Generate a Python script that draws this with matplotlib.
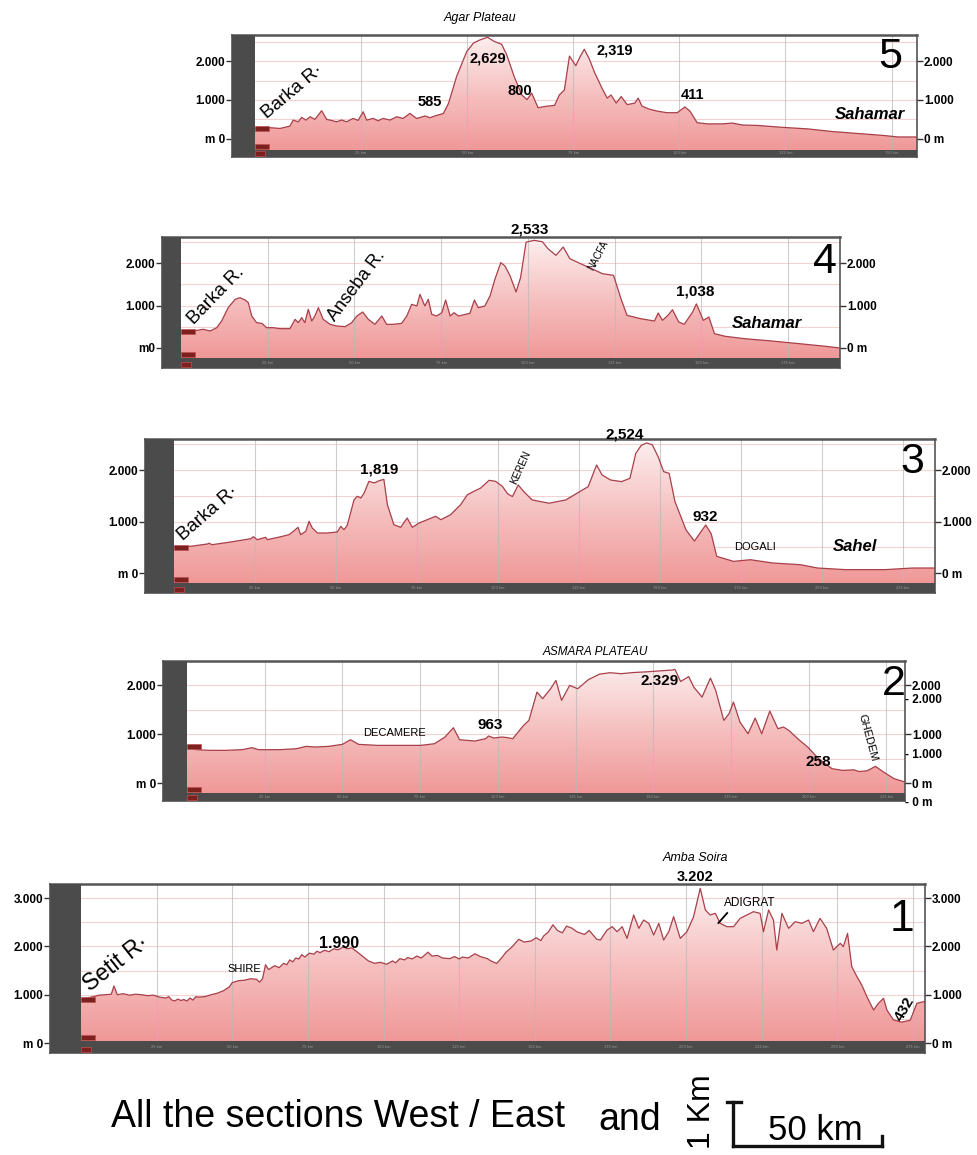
import numpy as np
import matplotlib.pyplot as plt
from matplotlib.colors import LinearSegmentedColormap
from matplotlib.lines import Line2D
from matplotlib.patches import Rectangle

# Section 5: Barka R. -> Agar Plateau -> Sahamar
km5 = [0, 2.8, 5.9, 8.2, 9.0, 10.2, 11.0, 12.0, 13.0, 14.1, 15.7, 16.9, 18.0, 19.2, 20.4, 21.6,
       23.1, 24.3, 25.5, 26.3, 27.9, 29.0, 30.2, 31.8, 33.4, 34.9, 36.5, 38.1, 40.1, 41.2, 42.8,
       44.4, 45.6, 47.5, 49.9, 51.5, 53.0, 54.8, 56.4, 58.1, 59.3, 61.1, 62.9, 64.1, 65.2, 66.7,
       68.8, 70.6, 71.7, 72.9, 74.1, 75.6, 76.5, 77.6, 78.8, 80.0, 81.8, 83.0, 83.9, 85.1, 86.3,
       87.7, 89.5, 90.3, 91.2, 93.0, 94.8, 97.1, 99.5, 101.3, 102.5, 104.2, 106.6, 110.1, 112.5,
       114.9, 118.4, 124.3, 130.2, 136.1, 142.1, 148.0, 151.5, 156]
elev5 = [261, 287, 261, 321, 478, 434, 548, 478, 565, 496, 722, 496, 470, 434, 480, 434,
         522, 470, 695, 478, 522, 460, 522, 478, 565, 522, 652, 520, 585, 540, 600,
         650, 913, 1608, 2260, 2480, 2560, 2629, 2520, 2450, 2180, 1600, 1130, 1010, 1180, 800,
         840, 860, 1130, 1260, 2140, 1890, 2100, 2319, 2060, 1720, 1300, 1050, 1130, 920, 1090,
         880, 920, 1050, 840, 760, 710, 670, 670, 820, 710, 411, 380, 380, 400,
         350, 340, 290, 250, 180, 130, 80, 40, 40]

# Section 4: Barka R. -> Anseba R. -> Nacfa -> Sahamar
km4 = [0, 0.7, 3.5, 6.4, 8.4, 10.3, 11.7, 13.6, 15.6, 17.0, 18.5, 19.4, 20.4, 21.8, 23.3, 24.7,
       26.6, 28.5, 31.4, 32.9, 33.8, 34.8, 35.7, 36.7, 37.7, 38.6, 39.6, 41.0, 43.0, 44.9, 47.3,
       49.2, 50.7, 52.4, 54.0, 55.9, 57.9, 59.3, 61.2, 63.6, 65.1, 66.5, 68.0, 68.9, 70.3, 71.3,
       72.3, 73.7, 75.2, 76.3, 77.6, 78.7, 80.0, 83.3, 84.6, 85.7, 87.6, 89.1, 90.5, 92.2, 93.4,
       94.9, 96.6, 97.9, 99.5, 101.8, 104.2, 105.8, 108.1, 110.2, 112.1, 115.2, 118.4, 121.5,
       124.7, 127.0, 128.6, 132.5, 136.5, 137.6, 138.8, 140.4, 141.7, 143.5, 145.1, 147.5, 148.6,
       150.6, 152.2, 153.8, 156.9, 162.4, 170.3, 178.2, 186.0, 190]
elev4 = [390, 400, 400, 440, 400, 478, 635, 949, 1145, 1184, 1129, 1067, 753, 596, 580, 478,
         478, 455, 455, 675, 596, 714, 596, 910, 635, 753, 949, 675, 557, 518, 502,
         596, 753, 847, 675, 557, 753, 557, 557, 580, 753, 1027, 988, 1263, 988, 1145,
         792, 753, 831, 1129, 753, 831, 753, 816, 1129, 949, 988, 1224, 1616, 2008, 1929,
         1694, 1318, 1655, 2490, 2533, 2500, 2337, 2180, 2376, 2102, 1984, 1867, 1749,
         1710, 1122, 769, 690, 635, 824, 651, 769, 900, 612, 557, 847, 1038,
         651, 729, 337, 275, 220, 165, 102, 39, 0]

# Section 3: Barka R. -> Keren -> Dogali -> Sahel
km3 = [0, 5.1, 10.3, 10.8, 11.8, 17.5, 23.7, 24.5, 25.7, 28.3, 28.8, 33.0, 35.5, 37.1, 38.3,
       39.1, 40.7, 41.7, 42.7, 44.3, 47.3, 50.4, 51.5, 52.5, 53.5, 55.6, 56.6, 57.7, 58.7, 60.2,
       61.8, 63.3, 64.8, 65.9, 67.9, 70.0, 72.0, 73.6, 75.7, 78.2, 80.8, 82.4, 85.4, 88.5, 90.6,
       92.6, 94.7, 97.3, 99.3, 101.4, 103.0, 104.5, 106.3, 108.0, 110.6, 113.2, 115.8, 121.0,
       124.4, 127.9, 130.5, 132.2, 134.8, 138.2, 140.8, 142.6, 144.3, 146.0, 147.7, 149.5, 151.2,
       152.9, 154.7, 158.1, 160.7, 164.2, 165.9, 167.6, 172.8, 178.0, 184.9, 193.5, 198.7, 207.4,
       219.5, 228.1, 235]
elev3 = [499, 518, 563, 577, 550, 602, 666, 705, 647, 693, 647, 705, 744, 822, 887,
         744, 810, 1004, 874, 777, 777, 796, 906, 841, 926, 1423, 1489, 1456, 1553, 1780,
         1748, 1790, 1819, 1326, 938, 887, 1068, 887, 971, 1035, 1101, 1035, 1132, 1326, 1520,
         1586, 1650, 1800, 1780, 1683, 1540, 1484, 1710, 1581, 1419, 1387, 1355, 1419,
         1548, 1677, 2097, 1903, 1806, 1774, 1839, 2323, 2480, 2524, 2490, 2258, 1968,
         1935, 1387, 839, 620, 932, 760, 323, 226, 258, 194, 161, 97, 65,
         65, 97, 97]

# Section 2: Decamere -> Asmara Plateau -> Ghedem
km2 = [0, 3.0, 7.3, 12.5, 17.8, 20.9, 23.0, 29.9, 35.2, 38.3, 41.3, 45.6, 50.0, 52.6, 55.2, 61.3,
       68.2, 75.2, 79.6, 83.0, 85.7, 87.7, 92.6, 96.1, 97.0, 98.7, 101.3, 103.1, 104.8, 108.3,
       110.0, 112.6, 114.4, 117.0, 118.7, 120.5, 123.1, 125.7, 129.2, 132.7, 136.1, 139.6, 144.0,
       148.3, 152.7, 156.2, 157.0, 158.8, 161.4, 163.1, 165.7, 168.4, 170.1, 172.7, 174.4, 175.8,
       177.9, 180.5, 182.8, 184.9, 187.5, 190.1, 191.9, 193.6, 197.1, 199.7, 203.2, 207.5, 211.0,
       214.5, 216.2, 218.8, 221.5, 224.1, 227.5, 231]
elev2 = [751, 683, 669, 669, 683, 724, 683, 683, 703, 751, 737, 751, 792, 887, 792, 771,
         771, 771, 805, 942, 1133, 887, 860, 908, 963, 922, 942, 930, 908, 1181,
         1283, 1863, 1727, 1932, 2102, 1693, 2000, 1932, 2120, 2230, 2260, 2240, 2265,
         2280, 2300, 2315, 2329, 2080, 2180, 1960, 1761, 2150, 1898, 1283, 1420, 1659,
         1249, 1010, 1331, 1010, 1474, 1113, 1147, 1079, 874, 737, 498, 294, 258,
         270, 235, 250, 341, 225, 89, 20]

# Section 1: Setit R. -> Shire -> Amba Soira / Adigrat
km1 = [0, 2, 4, 6, 8, 10, 10.9, 12, 14, 16, 18, 20, 22, 24, 26, 28, 29, 30, 31, 32,
       33, 34, 35, 36, 37, 38, 39, 41, 43, 45, 47, 49, 50, 52, 54, 56, 58, 59, 60, 61,
       62, 63, 64, 65.5, 67, 68, 69, 70, 71, 72, 73, 74, 75.5, 77, 78, 79, 80.5, 82, 83.5, 85,
       86.8, 88, 89.5, 91, 93, 95, 97, 99, 101, 103, 104, 105.4, 107, 108, 109.5, 111, 112.5,
       114.7, 116, 117.8, 119.5, 121.9, 123.5, 125, 126.1, 128, 130.2, 132, 134.3, 135.5,
       137.4, 139, 140.5, 142.5, 144.7, 146.5, 148.8, 150.5, 152, 152.9, 154.5, 156.0, 157.5,
       159.1, 160.5, 162.2, 164, 166.4, 168, 170.5, 171.7, 173.9, 175.6, 177.2, 178.9, 180.5,
       182.7, 184.4, 186.0, 187.7, 189.3, 191.0, 192.6, 194.3, 195.9, 198.1, 200.3, 202.5,
       204.7, 206.4, 208.0, 209.7, 211.3, 213.5, 215.7, 217.9, 220.1, 222.3, 224.5, 225.6,
       227.3, 228.9, 230.0, 231.7, 233.9, 236.1, 238.3, 240.5, 242.1, 244.3, 246.5, 248.7,
       251.0, 252.0, 253.4, 254.8, 256.5, 258.1, 259.8, 262.0, 263.6, 265.3, 266.4, 268.6,
       271.3, 274.1, 276.3, 278.5, 279]
elev1 = [900, 930, 960, 990, 1000, 1010, 1180, 1000, 1020, 990, 1010, 1000, 980, 990, 950, 930,
         960, 890, 870, 910, 880, 900, 870, 930, 890, 960, 950, 960, 1000, 1030, 1080, 1160,
         1250, 1290, 1300, 1330, 1320, 1260, 1330, 1620, 1520, 1560, 1600, 1560, 1650, 1620,
         1720, 1680, 1760, 1740, 1830, 1780, 1860, 1840, 1900, 1870, 1920, 1890, 1950, 1930,
         1990, 1950, 1970, 1900, 1800, 1700, 1650, 1670, 1630, 1700, 1660, 1747, 1720, 1770,
         1740, 1800, 1760, 1880, 1800, 1813, 1760, 1747, 1790, 1740, 1780, 1760, 1847, 1790,
         1747, 1700, 1647, 1760, 1880, 1990, 2147, 2090, 2113, 2180, 2120, 2213, 2300, 2447,
         2330, 2280, 2420, 2380, 2300, 2247, 2330, 2147, 2132, 2339, 2408, 2304, 2408, 2167,
         2650, 2374, 2546, 2477, 2236, 2477, 2132, 2304, 2615, 2167, 2304, 2615, 3202, 2753,
         2650, 2684, 2477, 2408, 2408, 2581, 2650, 2719, 2684, 2304, 2753, 2546, 1925, 2684,
         2374, 2512, 2477, 2546, 2304, 2581, 2374, 1925, 2064, 1994, 2270, 1580, 1373, 1201,
         958, 683, 822, 925, 683, 476, 432, 470, 822, 855, 860]

W, H = 978, 1155
fig = plt.figure(figsize=(W / 100, H / 100), dpi=100)

relief = LinearSegmentedColormap.from_list('relief', ['#f09898', '#f6c1c1', '#fdf0f0'])
LINE = '#a8404a'
DARK = '#4b4b4b'
BOX = '#7c2020'
SANS = ['Liberation Sans', 'DejaVu Sans']


def profile(frame, plot_left, plot_bottom, zero_y, px_per_km, km, elev, length,
            ticks, left_labels, right_labels):
    """Draw one elevation section; frame = outer box in pixels (left, top, right, bottom)."""
    left, top, right, bottom = frame
    ax = fig.add_axes([left / W, 1 - bottom / H, (right - left) / W, (bottom - top) / H])
    m_per_px = 1000 / px_per_km
    km_per_px = length / (right - plot_left)
    x_min = -(plot_left - left) * km_per_px
    y_top = (zero_y - top) * m_per_px
    y_min = -(bottom - zero_y) * m_per_px
    y_floor = -(plot_bottom - zero_y) * m_per_px

    for m in range(500, int(y_top), 500):
        ax.axhline(m, color='#f5d2d2', lw=0.8, zorder=0)
    poly = ax.fill_between(km, elev, y_floor, color='none', lw=0)
    grad = np.linspace(0, 1, 256).reshape(-1, 1)
    im = ax.imshow(grad, extent=[0, length, y_floor, y_top], origin='lower',
                   aspect='auto', cmap=relief, zorder=1)
    im.set_clip_path(poly.get_paths()[0], transform=ax.transData)
    for g in np.arange(25, length, 25):
        ax.axvline(g, color='#b9b9b9', lw=0.8, alpha=0.7, zorder=2)
        ax.text(g, (y_min + y_floor) / 2, f'{g:.0f} km', fontsize=2.5, color='#9c9c9c',
                ha='center', va='center', zorder=6)
    ax.plot(km, elev, color=LINE, lw=0.9, zorder=3)
    ax.axvspan(x_min, 0, color=DARK, lw=0, zorder=4)
    ax.axhspan(y_min, y_floor, color=DARK, lw=0, zorder=4)

    # small read-out boxes of the profile tool at the start of the section
    bw, bh = 14 * km_per_px, 5 * m_per_px
    for yb in (elev[0] - bh / 2, y_floor + 1.5 * m_per_px):
        ax.add_patch(Rectangle((0, yb), bw, bh, fc=BOX, ec='#c05050', lw=0.5, zorder=5))
    ax.add_patch(Rectangle((0, y_min + 1.5 * m_per_px), bw * 0.7, bh, fc=BOX, ec='#c05050',
                           lw=0.5, zorder=5))

    ax.set_xlim(x_min, length)
    ax.set_ylim(y_min, y_top)
    ax.set_xticks([])
    for s in ax.spines.values():
        s.set_color('#555555')
        s.set_linewidth(1.2)
    ax.spines['top'].set_linewidth(1.8)

    ax.set_yticks(ticks)
    ax.set_yticklabels(left_labels, fontweight='bold', fontsize=8.5, family=SANS)
    ax.tick_params(axis='y', direction='out', length=4, width=1, color='#333333', pad=1)
    ax2 = ax.twinx()
    ax2.set_ylim(y_min, y_top)
    ax2.set_yticks(ticks)
    ax2.set_yticklabels(right_labels, fontweight='bold', fontsize=8.5, family=SANS)
    ax2.tick_params(axis='y', direction='out', length=4, width=1, color='#333333', pad=1)
    for s in ax2.spines.values():
        s.set_visible(False)
    return ax


def peak(ax, x, y, s, size=10.5, **kw):
    ax.text(x, y, s, ha='center', va='center', fontsize=size, fontweight='bold',
            family=SANS, zorder=7, clip_on=False, **kw)


def name(ax, x, y, s, size=8, **kw):
    ax.text(x, y, s, ha='center', va='center', fontsize=size, family=SANS,
            zorder=7, clip_on=False, **kw)


# ---- section 5
ax = profile((232, 35, 917, 157), 255, 150, 138.5, 38.5, km5, elev5, 156,
             [0, 1000, 2000], ['m 0', '1.000', '2.000'], ['0 m', '1.000', '2.000'])
name(ax, 53, 3120, 'Agar Plateau', 9, style='italic')
peak(ax, 54.9, 2088, '2,629')
peak(ax, 62.4, 1240, '800')
peak(ax, 84.8, 2280, '2,319')
peak(ax, 41.2, 955, '585')
peak(ax, 103, 1120, '411')
name(ax, 149.6, 2110, '5', 31)
name(ax, 145, 620, 'Sahamar', 12, style='italic', fontweight='bold')
name(ax, 8.9, 1208, 'Barka R·', 13.5, rotation=40)

# ---- section 4
ax = profile((162, 237, 840, 368), 181, 358, 348, 42.5, km4, elev4, 190,
             [0, 1000, 2000], ['m0', '1.000', '2.000'], ['0 m', '1.000', '2.000'])
peak(ax, 100.6, 2800, '2,533', 11)
name(ax, 120.2, 2188, 'NACFA', 7, rotation=62)
peak(ax, 148.2, 1318, '1,038', 11)
name(ax, 185.7, 2024, '4', 31)
name(ax, 169, 588, 'Sahamar', 12, style='italic', fontweight='bold')
name(ax, 10.1, 1224, 'Barka R.', 13.5, rotation=46)
name(ax, 50.7, 1459, 'Anseba R.', 13, rotation=53)

# ---- section 3
ax = profile((145, 439, 935, 593), 174, 583, 573, 51.5, km3, elev3, 235,
             [0, 1000, 2000], ['m 0', '1.000', '2.000'], ['0 m', '1.000', '2.000'])
peak(ax, 139.3, 2699, '2,524', 11)
peak(ax, 63.3, 2006, '1,819', 11)
name(ax, 106.9, 2058, 'KEREN', 7.5, rotation=66)
peak(ax, 164, 1087, '932', 11)
name(ax, 179.4, 505, 'DOGALI', 8)
name(ax, 210.3, 505, 'Sahel', 12, style='italic', fontweight='bold')
name(ax, 227.9, 2155, '3', 31)
name(ax, 10.5, 1165, 'Barka R·', 13.5, rotation=41)

# ---- section 2
ax = profile((163, 661, 905, 801), 187, 793, 783, 48.8, km2, elev2, 231,
             [0, 1000, 2000], ['m 0', '1.000', '2.000'], ['0 m', '1.000', '2.000'])
name(ax, 131.3, 2684, 'ASMARA PLATEAU', 8.5, style='italic')
name(ax, 66.9, 1025, 'DECAMERE', 8)
peak(ax, 97.5, 1189, '963', 11)
peak(ax, 152.2, 2080, '2.329', 11)
peak(ax, 203, 430, '258', 11)
name(ax, 219, 922, 'GHEDEM', 8, rotation=-75)
name(ax, 227.5, 2029, '2', 31)
for yv, s in [(1701, '2.000'), (574, '1.000'), (-410, '0 m')]:
    ax.text(231, yv, '- ' + s, ha='left', va='center', fontsize=8.5, fontweight='bold',
            family=SANS, clip_on=False)

# ---- section 1
ax = profile((50, 884, 925, 1053), 81, 1041, 1043, 48.3, km1, elev1, 279,
             [0, 1000, 2000, 3000], ['m 0', '1.000', '2.000', '3.000'],
             ['0 m', '1.000', '2.000', '3.000'])
name(ax, 203, 3830, 'Amba Soira', 9, style='italic')
peak(ax, 203, 3436, '3.202', 10.5)
name(ax, 221.2, 2892, 'ADIGRAT', 8.5)
ax.plot([210.7, 213.6], [2484, 2691], color='k', lw=1.3, zorder=7)
peak(ax, 85.2, 2063, '1.990', 11.5)
name(ax, 53.9, 1532, 'SHIRE', 8)
name(ax, 11.6, 1656, 'Setit R·', 16.5, rotation=38)
name(ax, 271.4, 2567, '1', 32)
peak(ax, 272.4, 700, '432', 11, rotation=60)


# ---- caption and scale
def fx(x):
    return x / W


def fy(y):
    return 1 - y / H


fig.text(fx(111), fy(1127), 'All the sections West / East', ha='left', va='baseline',
         fontsize=27, family=SANS)
fig.text(fx(598), fy(1130), 'and', ha='left', va='baseline', fontsize=27, family=SANS)
fig.text(fx(702), fy(1112), '1 Km', ha='center', va='center', fontsize=23, rotation=90,
         family=SANS)
for xs, ys in [([733, 733], [1102, 1146]), ([727, 741], [1102, 1102]),
               ([733, 882], [1146, 1146]), ([882, 882], [1136, 1146])]:
    fig.add_artist(Line2D([fx(v) for v in xs], [fy(v) for v in ys], color='#111111', lw=2.4))
fig.text(fx(768), fy(1140), '50 km', ha='left', va='baseline', fontsize=25, family=SANS)

fig.savefig('out.png', dpi=100, facecolor='white')
